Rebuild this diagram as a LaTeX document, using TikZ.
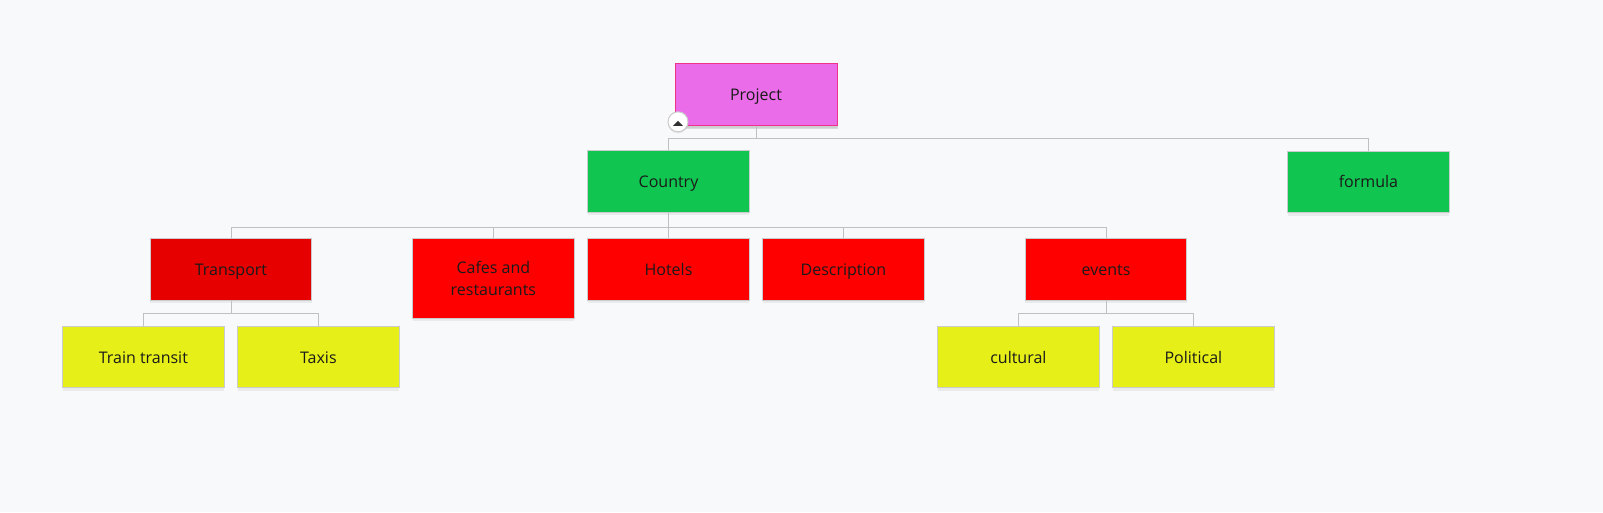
\documentclass[tikz,border=0pt]{standalone}
\usepackage{fontspec}
\setmainfont{Open Sans}
\usetikzlibrary{shadows}
\definecolor{bg}{HTML}{F8F9FB}
\definecolor{pinkfill}{HTML}{EA6CE8}
\definecolor{pinkline}{HTML}{F0338A}
\definecolor{greenfill}{HTML}{10C650}
\definecolor{redfill}{HTML}{FF0000}
\definecolor{darkred}{HTML}{E60000}
\definecolor{yellowfill}{HTML}{E6F018}
\definecolor{boxline}{HTML}{CBCBCB}
\definecolor{connline}{HTML}{C0C0C0}
\definecolor{txt}{HTML}{1A1A1A}
\begin{document}
\begin{tikzpicture}[x=1pt,y=-1pt,
  boxbase/.style={rectangle, draw=boxline, line width=1pt, minimum width=161.7pt, minimum height=61.5pt,
    inner sep=2pt, align=center, text=txt, font=\fontsize{16}{22}\selectfont,
    drop shadow={opacity=0.12, shadow xshift=0pt, shadow yshift=-3pt}},
  box/.style={boxbase, text height=12pt, text depth=0pt},
  rootbox/.style={box, fill=pinkfill, draw=pinkline, minimum width=162pt, minimum height=62pt,
    drop shadow={opacity=0.25, shadow xshift=1pt, shadow yshift=-4pt}},
  greenbox/.style={box, fill=greenfill},
  redbox/.style={box, fill=redfill},
  redbox2/.style={boxbase, fill=redfill},
  darkredbox/.style={box, fill=darkred},
  yellowbox/.style={box, fill=yellowfill},
  conn/.style={draw=connline, line width=1pt}
]
\fill[bg] (0,0) rectangle (1603,512);
\useasboundingbox (0,0) rectangle (1603,512);

% root
\node[rootbox] (project) at (756,94) {Project};

% level 1
\node[greenbox] (country) at (668.5,181.7) {Country};
\node[greenbox] (formula) at (1368.4,181.8) {formula};

% level 2
\node[darkredbox] (transport) at (231,269.3) {Transport};
\node[redbox2, minimum height=79.6pt] (cafes) at (493.4,278.5) {Cafes and\\restaurants};
\node[redbox] (hotels) at (668.5,269.3) {Hotels};
\node[redbox] (description) at (843.4,269.3) {Description};
\node[redbox] (events) at (1106,269.3) {events};

% level 3
\node[yellowbox] (train) at (143.4,357) {Train transit};
\node[yellowbox] (taxis) at (318.4,357) {Taxis};
\node[yellowbox] (cultural) at (1018.4,357) {cultural};
\node[yellowbox] (political) at (1193.4,357) {Political};

% connectors
\draw[conn] (project.south) -- ++(0,13.3) -| (country.north);
\draw[conn] (project.south) -- ++(0,13.3) -| (formula.north);

\foreach \c in {transport,cafes,hotels,description,events}
  \draw[conn] (country.south) -- ++(0,14.5) -| (\c.north);

\draw[conn] (transport.south) -- ++(0,13.3) -| (train.north);
\draw[conn] (transport.south) -- ++(0,13.3) -| (taxis.north);
\draw[conn] (events.south) -- ++(0,13.3) -| (cultural.north);
\draw[conn] (events.south) -- ++(0,13.3) -| (political.north);

% collapse toggle
\node[circle, fill=white, draw=boxline, line width=1pt, minimum size=20pt, inner sep=0pt,
  drop shadow={opacity=0.15, shadow xshift=0pt, shadow yshift=-1.5pt}] (toggle) at (678,121.8) {};
\fill[txt!90] ([xshift=-5pt,yshift=-4pt]toggle.center) -- ([xshift=5pt,yshift=-4pt]toggle.center)
  -- ([yshift=1pt]toggle.center) -- cycle;
\end{tikzpicture}
\end{document}
